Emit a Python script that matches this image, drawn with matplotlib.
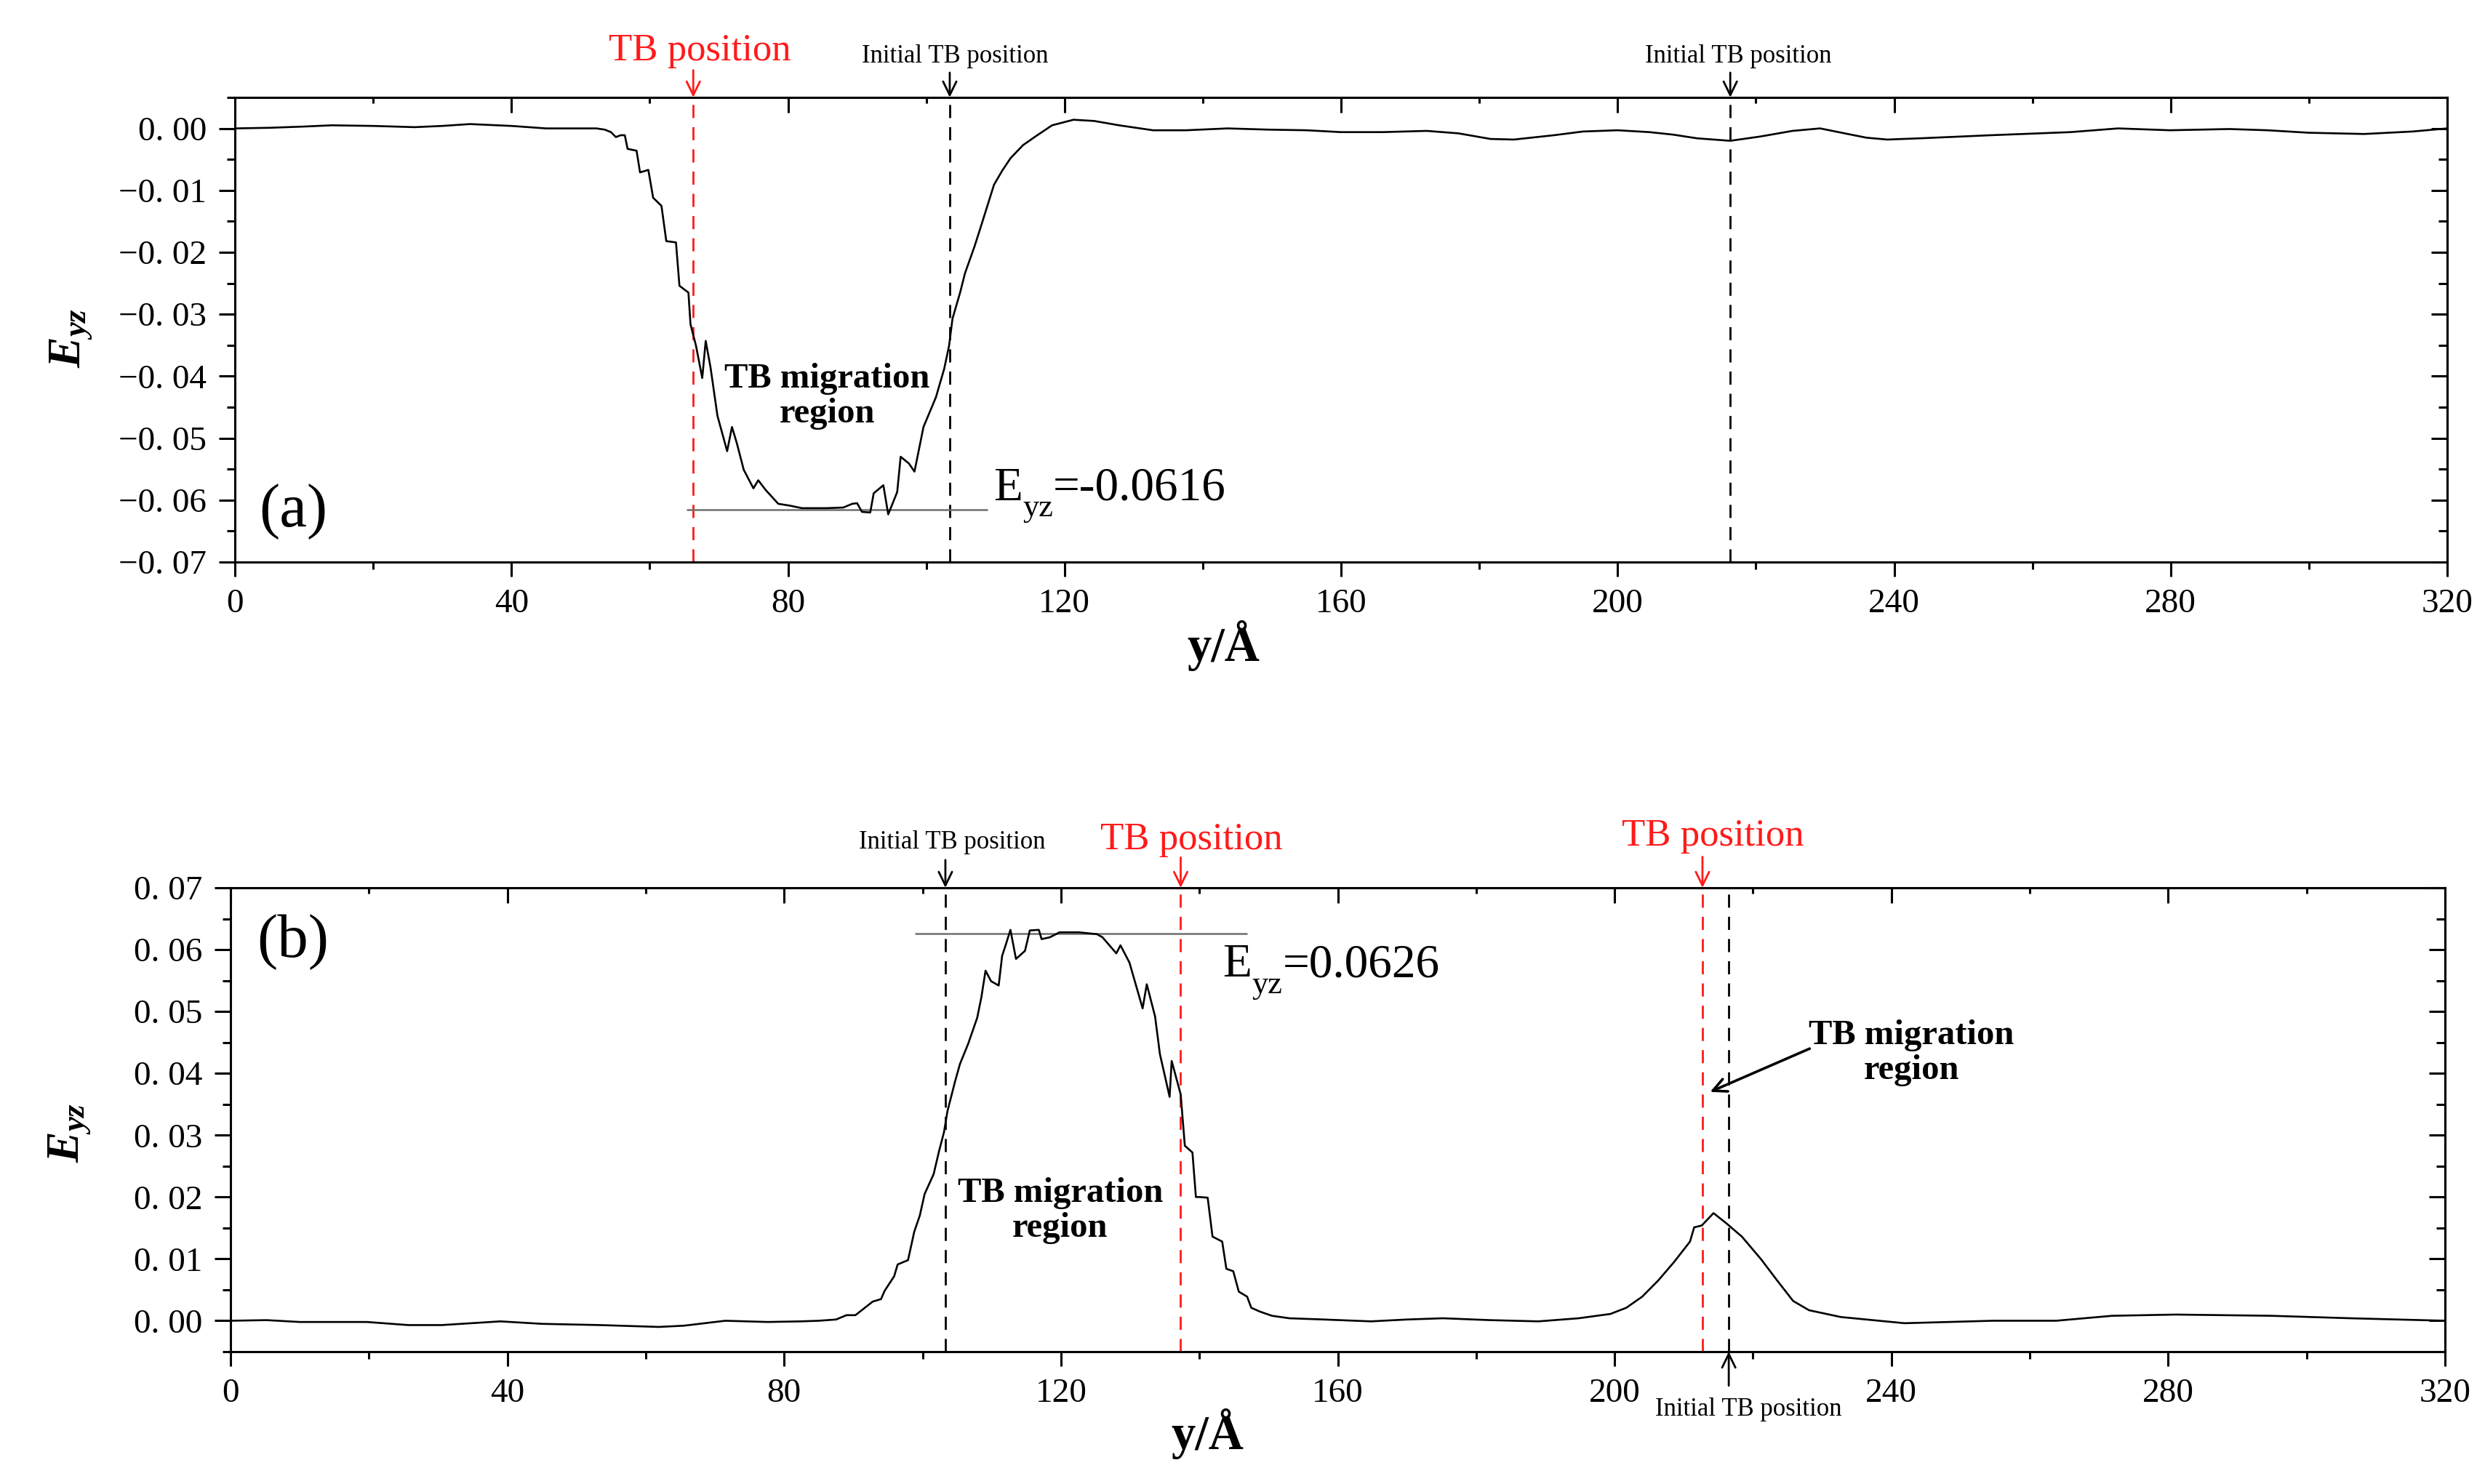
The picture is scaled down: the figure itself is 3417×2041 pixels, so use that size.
import matplotlib
matplotlib.use('Agg')
import matplotlib.pyplot as plt
from matplotlib.ticker import MultipleLocator, FuncFormatter

plt.rcParams['font.family'] = ['Liberation Serif', 'DejaVu Serif']
plt.rcParams['mathtext.fontset'] = 'custom'
plt.rcParams['mathtext.rm'] = 'Liberation Serif'
plt.rcParams['mathtext.it'] = 'Liberation Serif:italic:bold'
plt.rcParams['mathtext.bf'] = 'Liberation Serif:bold'

# ---------------- data ----------------
# panel (a)
ya_pos = [0, 5, 10, 14, 20, 26, 30, 34, 40, 45, 50, 52.3, 53.5, 54.4, 55.1, 55.8, 56.4,
          56.8, 58.1, 58.6, 59.8, 60.5, 61.7, 62.4, 63.8, 64.3, 65.6, 65.9, 66.7, 67.6,
          68.1, 68.8, 69.8, 71.2, 71.9, 72.6, 73.6, 75.0, 75.7, 76.8, 78.6, 80.3, 82.0,
          85.6, 88.0, 89.3, 90.0, 90.7, 91.9, 92.4, 93.8, 94.5, 95.8, 96.3, 97.5, 98.3,
          99.6, 101.4, 102.6, 103.3, 103.8, 104.9, 105.6, 107, 108, 109.8, 111, 112.2,
          114, 115.8, 118.2, 121.3, 124.3, 127.9, 132.8, 137.6, 143.6, 149.6, 155, 160,
          166, 172.4, 177, 181.6, 185, 190.8, 195, 200, 204.6, 208, 211.5, 216.3, 220.7,
          225.3, 229.3, 233.3, 236, 239, 243.7, 254, 265.5, 272.4, 279.9, 288.5, 294,
          300, 308, 315, 320]
Ea = [0.0, 0.0001, 0.0003, 0.0005, 0.0004, 0.0002, 0.0004, 0.0007, 0.0004, 0.0, 0.0, 0.0,
      -0.0002, -0.0006, -0.0014, -0.0011, -0.0011, -0.0033, -0.0036, -0.0071, -0.0067,
      -0.0112, -0.0125, -0.0182, -0.0184, -0.0254, -0.0265, -0.0316, -0.0351, -0.0403,
      -0.0343, -0.0386, -0.0464, -0.0521, -0.0482, -0.0508, -0.0551, -0.0581, -0.0568,
      -0.0584, -0.0606, -0.0609, -0.0613, -0.0613, -0.0612, -0.0606, -0.0605, -0.0619,
      -0.0620, -0.0589, -0.0576, -0.0623, -0.0587, -0.0530, -0.0541, -0.0554, -0.0482,
      -0.0434, -0.0388, -0.0351, -0.0307, -0.0265, -0.0234, -0.0190, -0.0155, -0.0091,
      -0.0068, -0.0048, -0.0027, -0.0013, 0.0005, 0.0014, 0.0012, 0.0005, -0.0003,
      -0.0003, 0.0, -0.0002, -0.0003, -0.0006, -0.0006, -0.0004, -0.0008, -0.0017,
      -0.0018, -0.0011, -0.0005, -0.0003, -0.0006, -0.0010, -0.0016, -0.0020, -0.0013,
      -0.0004, 0.0, -0.0009, -0.0015, -0.0018, -0.0016, -0.0011, -0.0006, 0.0, -0.0003,
      -0.0001, -0.0003, -0.0007, -0.0009, -0.0005, 0.0]

# panel (b)
yb_pos = [0, 5.2, 10, 19.7, 25.7, 30.5, 39, 45, 53.4, 61.9, 65.5, 71.5, 77.6, 82.4, 85,
          87.5, 89.0, 90.3, 92.8, 94.0, 94.5, 95.9, 96.4, 97.9, 98.8, 99.6, 100.3, 101.6,
          102.4, 103.1, 103.6, 104.7, 105.4, 106.6, 107.9, 108.5, 109.1, 109.9, 111.0,
          111.5, 112.0, 112.7, 113.5, 114.8, 115.5, 116.8, 117.2, 118.4, 119.8, 122.6,
          125.2, 126.0, 128.0, 128.6, 129.9, 131.8, 132.4, 133.6, 134.3, 135.7, 136.0,
          137.3, 137.9, 139.0, 139.5, 140.0, 141.2, 141.9, 143.3, 143.9, 144.9, 145.7,
          146.9, 147.5, 148.7, 150.5, 153, 158, 164.8, 170, 175.2, 182, 189, 194.8, 199.4,
          201.7, 204, 206.3, 208.6, 210.9, 211.5, 212.6, 214.3, 216.1, 218.4, 221.2,
          223.5, 225.8, 228.1, 232.7, 241.9, 254.6, 263.8, 271.9, 281.1, 294.9, 306.4, 320]
Eb = [0.0, 0.0001, -0.0002, -0.0002, -0.0007, -0.0007, -0.0001, -0.0005, -0.0007, -0.0010,
      -0.0008, 0.0, -0.0002, -0.0001, 0.0, 0.0002, 0.0009, 0.0009, 0.0031, 0.0035, 0.0048,
      0.0072, 0.0091, 0.0098, 0.0144, 0.0170, 0.0205, 0.0237, 0.0275, 0.0305, 0.0339,
      0.0387, 0.0415, 0.0448, 0.0490, 0.0523, 0.0566, 0.0549, 0.0542, 0.0590, 0.0607,
      0.0632, 0.0585, 0.0598, 0.0631, 0.0632, 0.0617, 0.0620, 0.0628, 0.0628, 0.0625,
      0.0620, 0.0594, 0.0607, 0.0579, 0.0505, 0.0544, 0.0492, 0.0431, 0.0362, 0.0420,
      0.0366, 0.0283, 0.0272, 0.0200, 0.0200, 0.0199, 0.0136, 0.0128, 0.0084, 0.0080,
      0.0047, 0.0039, 0.0021, 0.0015, 0.0008, 0.0004, 0.0002, -0.0001, 0.0002, 0.0004,
      0.0001, -0.0001, 0.0004, 0.0011, 0.0021, 0.0039, 0.0065, 0.0095, 0.0128, 0.0151,
      0.0154, 0.0174, 0.0158, 0.0136, 0.0099, 0.0065, 0.0032, 0.0017, 0.0006, -0.0004,
      0.0, 0.0, 0.0008, 0.0010, 0.0008, 0.0004, 0.0]

# TB positions
a_tb_now = [66.3]
a_tb_init = [103.4, 216.3]
b_tb_now = [137.3, 212.7]
b_tb_init = [103.3, 216.5]
a_extreme = -0.0616
b_extreme = 0.0626
x_ticks = [0, 40, 80, 120, 160, 200, 240, 280, 320]
a_yticks = [-0.07, -0.06, -0.05, -0.04, -0.03, -0.02, -0.01, 0.0]
b_yticks = [0.0, 0.01, 0.02, 0.03, 0.04, 0.05, 0.06, 0.07]

# ---------------- styling helpers ----------------
W, H = 3417, 2041
fig = plt.figure(figsize=(W / 100, H / 100), dpi=100)

TICK_FS = 34
LW_SPINE = 2.2


def fmt(v, pos):
    s = f"{abs(v):.2f}".replace('.', '. ')
    if v < -1e-9:
        s = '\u2212' + s
    return s


def style_axes(ax, yticks, ylim):
    ax.set_xlim(0, 320)
    ax.set_ylim(*ylim)
    ax.set_xticks(x_ticks)
    ax.set_xticklabels([str(t) for t in x_ticks])
    ax.xaxis.set_minor_locator(MultipleLocator(20))
    ax.set_yticks(yticks)
    ax.yaxis.set_major_formatter(FuncFormatter(fmt))
    ax.yaxis.set_minor_locator(MultipleLocator(0.005))
    for s in ax.spines.values():
        s.set_linewidth(LW_SPINE)
    ax.tick_params(which='both', direction='out', top=False, right=False,
                   width=LW_SPINE, labelsize=TICK_FS)
    ax.tick_params(axis='x', which='major', length=14.5, pad=12)
    ax.tick_params(axis='x', which='minor', length=7)
    ax.tick_params(axis='y', which='major', length=16, pad=12)
    ax.tick_params(axis='y', which='minor', length=8)
    sx = ax.secondary_xaxis('top')
    sx.set_xticks(x_ticks)
    sx.xaxis.set_minor_locator(MultipleLocator(20))
    sx.tick_params(which='both', direction='in', labeltop=False, width=LW_SPINE)
    sx.tick_params(which='major', length=15)
    sx.tick_params(which='minor', length=6)
    sx.spines['top'].set_linewidth(LW_SPINE)
    sy = ax.secondary_yaxis('right')
    sy.set_yticks(yticks)
    sy.yaxis.set_minor_locator(MultipleLocator(0.005))
    sy.tick_params(which='both', direction='in', labelright=False, width=LW_SPINE)
    sy.tick_params(which='major', length=16)
    sy.tick_params(which='minor', length=9)
    sy.spines['right'].set_linewidth(LW_SPINE)


DASH = (0, (6.5, 4.5))
RED = '#ff1a1a'
ARROW = '->,head_length=0.45,head_width=0.22'


def top_arrow(ax, x, y_tail, y_tip, color, lw=2.0):
    ax.annotate('', xy=(x, y_tip), xytext=(x, y_tail),
                arrowprops=dict(arrowstyle=ARROW, color=color, lw=lw,
                                shrinkA=0, shrinkB=0, mutation_scale=30),
                annotation_clip=False)


def eyz_label(ax, x, y, value_text):
    ax.annotate('E', xy=(x, y), xycoords='data', xytext=(0, 0),
                textcoords='offset points', fontsize=47, ha='left', va='baseline')
    ax.annotate('yz', xy=(x, y), xycoords='data', xytext=(29, -16),
                textcoords='offset points', fontsize=32, ha='left', va='baseline')
    ax.annotate(value_text, xy=(x, y), xycoords='data', xytext=(59, 0),
                textcoords='offset points', fontsize=47, ha='left', va='baseline')


MIG_KW = dict(fontsize=35, fontweight='bold', ha='center', va='center', linespacing=1.12)

# ---------------- panel (a) ----------------
ax1 = fig.add_axes([323 / W, 1 - 773 / H, (3365 - 323) / W, (773 - 134) / H])
style_axes(ax1, a_yticks, (-0.07, 0.005))
ax1.plot(ya_pos, Ea, color='black', lw=1.9, zorder=3)
for x in a_tb_now:
    ax1.axvline(x, color=RED, ls=DASH, lw=2.0, zorder=2)
for x in a_tb_init:
    ax1.axvline(x, color='black', ls=DASH, lw=2.0, zorder=2)
ax1.hlines(a_extreme, 65.3, 108.9, color='#6e6e6e', lw=1.8, zorder=2)

ax1.text(67.3, 0.0125, 'TB position', color=RED, fontsize=38, ha='center', va='center')
top_arrow(ax1, a_tb_now[0], 0.0094, 0.005, RED)
ax1.text(104.2, 0.0116, 'Initial TB position', fontsize=25, ha='center', va='center')
top_arrow(ax1, a_tb_init[0], 0.0090, 0.005, 'black')
ax1.text(217.5, 0.0116, 'Initial TB position', fontsize=25, ha='center', va='center')
top_arrow(ax1, a_tb_init[1], 0.0090, 0.005, 'black')

ax1.text(85.7, -0.0432, 'TB migration\nregion', **MIG_KW)
eyz_label(ax1, 109.7, -0.0600, '=-0.0616')
ax1.text(8.4, -0.0618, '(a)', fontsize=61, ha='center', va='center')

ax1.set_xlabel('y/\u00c5', fontsize=48, fontweight='bold', va='center')
ax1.xaxis.set_label_coords(0.447, -0.18)
ax1.set_ylabel(r'$E_{yz}$', fontsize=46, va='center', ha='center')
ax1.yaxis.set_label_coords(-0.074, 0.482)

# ---------------- panel (b) ----------------
ax2 = fig.add_axes([317 / W, 1 - 1859 / H, (3362 - 317) / W, (1859 - 1221) / H])
style_axes(ax2, b_yticks, (-0.005, 0.07))
ax2.plot(yb_pos, Eb, color='black', lw=1.9, zorder=3)
for x in b_tb_now:
    ax2.axvline(x, color=RED, ls=DASH, lw=2.0, zorder=2)
for x in b_tb_init:
    ax2.axvline(x, color='black', ls=DASH, lw=2.0, zorder=2)
ax2.hlines(b_extreme, 98.9, 146.9, color='#6e6e6e', lw=1.8, zorder=2)

ax2.text(104.3, 0.0773, 'Initial TB position', fontsize=25, ha='center', va='center')
top_arrow(ax2, b_tb_init[0], 0.0745, 0.07, 'black')
ax2.text(138.9, 0.0778, 'TB position', color=RED, fontsize=38, ha='center', va='center')
top_arrow(ax2, b_tb_now[0], 0.0749, 0.07, RED)
ax2.text(214.2, 0.0783, 'TB position', color=RED, fontsize=38, ha='center', va='center')
top_arrow(ax2, b_tb_now[1], 0.0750, 0.07, RED)

ax2.text(219.3, -0.0143, 'Initial TB position', fontsize=25, ha='center', va='center')
top_arrow(ax2, b_tb_init[1], -0.0105, -0.005, 'black')

ax2.text(119.9, 0.0178, 'TB migration\nregion', **MIG_KW)
ax2.text(242.9, 0.0433, 'TB migration\nregion', **MIG_KW)
ax2.annotate('', xy=(213.8, 0.0370), xytext=(228.2, 0.0440),
             arrowprops=dict(arrowstyle=ARROW, color='black', lw=2.6,
                             shrinkA=0, shrinkB=0, mutation_scale=30))
eyz_label(ax2, 143.4, 0.0556, '=0.0626')
ax2.text(9.0, 0.0612, '(b)', fontsize=61, ha='center', va='center')

ax2.set_xlabel('y/\u00c5', fontsize=48, fontweight='bold', va='center')
ax2.xaxis.set_label_coords(0.441, -0.177)
ax2.set_ylabel(r'$E_{yz}$', fontsize=46, va='center', ha='center')
ax2.yaxis.set_label_coords(-0.0726, 0.472)

fig.savefig('out.png', dpi=100)
